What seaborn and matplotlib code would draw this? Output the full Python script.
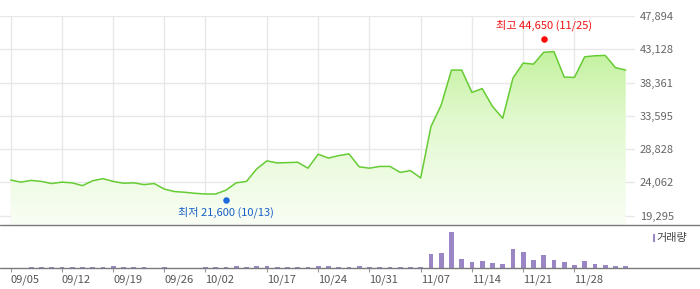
import numpy as np
import pandas as pd
import matplotlib
matplotlib.use("Agg")
import matplotlib.pyplot as plt
import seaborn as sns
from matplotlib.colors import LinearSegmentedColormap
from matplotlib.lines import Line2D
from matplotlib.patches import Rectangle

# ---------------- data ----------------
price = [24400, 24100, 24350, 24200, 23900, 24100, 24000, 23600, 24300, 24600,
         24200, 23950, 24000, 23750, 23900, 23100, 22750, 22650, 22500, 22400,
         22400, 22950, 24000, 24200, 26000, 27150, 26850, 26900, 26950, 26100,
         28100, 27550, 27900, 28150, 26300, 26100, 26350, 26350, 25500, 25750,
         24700, 32050, 35150, 40150, 40150, 36950, 37500, 34950, 33250, 39000,
         41150, 41000, 42700, 42800, 39150, 39100, 42050, 42200, 42250, 40500, 40150]

volume = [8, 8, 50, 50, 50, 50, 50, 50, 50, 50,
          100, 50, 50, 50, 10, 50, 10, 10, 10, 50,
          50, 50, 100, 50, 100, 100, 50, 50, 50, 50,
          100, 100, 50, 50, 100, 50, 50, 50, 50, 50,
          50, 700, 750, 1800, 450, 300, 350, 250, 200, 950,
          800, 400, 650, 400, 300, 150, 350, 200, 150, 100, 100]

tick_idx = [0, 5, 10, 15, 19, 25, 30, 35, 40, 45, 50, 55]
tick_labels = ["09/05", "09/12", "09/19", "09/26", "10/02", "10/17",
               "10/24", "10/31", "11/07", "11/14", "11/21", "11/28"]

y_ticks = [19295, 24062, 28828, 33595, 38361, 43128, 47894]

high_idx, high_val, high_date = 52, 44650, "11/25"
low_idx, low_val, low_date = 21, 21600, "10/13"

df = pd.DataFrame({"idx": np.arange(len(price)), "price": price, "volume": volume})

# ---------------- style ----------------
sns.set_theme(style="white")
plt.rcParams["font.family"] = ["Noto Sans CJK KR", "DejaVu Sans"]

W, H = 700, 289
fig = plt.figure(figsize=(W / 100, H / 100), dpi=100)

def fx(px):
    return px / W

def fy(py):
    return 1 - py / H

ax_left, ax_right = 0, 635
main_top, main_bot = 16, 225
vol_top, vol_bot = 225, 268.3

ax = fig.add_axes([fx(ax_left), fy(main_bot), fx(ax_right - ax_left), (main_bot - main_top) / H])
axv = fig.add_axes([fx(ax_left), fy(vol_bot), fx(ax_right - ax_left), (vol_bot - vol_top) / H])

# x mapping: index 0 at px 10.7, step 10.25 px
x0_px, step_px = 10.7, 10.25
xmin = (ax_left - x0_px) / step_px
xmax = (ax_right - x0_px) / step_px

# y limits: 47894 at px 16, 19295 at px 215.7
ppu = (215.7 - 16) / (y_ticks[-1] - y_ticks[0])
ymax = y_ticks[-1]
ymin = y_ticks[0] - (main_bot - 215.7) / ppu

# ---------------- main price panel ----------------
grid_c = "#e8e8e8"
ax.set_xlim(xmin, xmax)
ax.set_ylim(ymin, ymax)
ax.set_xticks(tick_idx)
ax.set_xticklabels([])
ax.set_yticks(y_ticks)
ax.set_yticklabels([f"{v:,}" for v in y_ticks])
ax.yaxis.tick_right()
ax.tick_params(axis="y", length=0, pad=3.6, labelsize=8, labelcolor="#666666")
ax.tick_params(axis="x", length=0)
ax.grid(True, color=grid_c, linewidth=1.0)
for s in ax.spines.values():
    s.set_visible(False)

# gradient fill under the line
poly = ax.fill_between(df["idx"], df["price"], ymin, color="none", linewidth=0)
cmap = LinearSegmentedColormap.from_list("g", ["#f9fef5", "#e2f9cf", "#b4ee86"])
grad = np.linspace(0, 1, 256).reshape(-1, 1)
im = ax.imshow(grad, cmap=cmap, aspect="auto", origin="lower",
               extent=[0, len(price) - 1, ymin, ymax], zorder=1)
im.set_clip_path(poly.get_paths()[0], transform=ax.transData)
ax.set_xlim(xmin, xmax)
ax.set_ylim(ymin, ymax)

sns.lineplot(data=df, x="idx", y="price", ax=ax, color="#66cc33", linewidth=1.1, zorder=3)
ax.set_xlabel("")
ax.set_ylabel("")

ax.scatter([high_idx], [high_val], s=22, color="#ff0a0a", zorder=4, linewidths=0)
ax.scatter([low_idx], [low_val], s=22, color="#1e6be0", zorder=4, linewidths=0)
ax.annotate(f"최고 {high_val:,} ({high_date})", (high_idx, high_val), xytext=(0, 9.8),
            textcoords="offset points", ha="center", va="center", fontsize=8, color="#ee1111")
ax.annotate(f"최저 {low_val:,} ({low_date})", (low_idx, low_val), xytext=(0, -9.2),
            textcoords="offset points", ha="center", va="center", fontsize=8, color="#1a5fc8")

# ---------------- volume panel ----------------
sns.barplot(data=df, x="idx", y="volume", ax=axv, color="#9a86c5", width=0.45,
            native_scale=True, saturation=1, linewidth=0)
axv.set_xlim(xmin, xmax)
axv.set_ylim(0, 2150)
axv.set_xlabel("")
axv.set_ylabel("")
axv.set_yticks([])
axv.set_xticks(tick_idx)
axv.set_xticklabels(tick_labels, ha="left")
axv.tick_params(axis="x", direction="out", length=3.2, width=0.8, color="#999999",
                pad=1.5, labelsize=8, labelcolor="#555555", bottom=True)
for s in axv.spines.values():
    s.set_visible(False)

# separator lines spanning the full width
for py in (main_bot, vol_bot):
    fig.add_artist(Line2D([0, 1], [fy(py), fy(py)], transform=fig.transFigure,
                          color="#7a7a7a", linewidth=1.0))

# volume legend
fig.add_artist(Rectangle((fx(652.5), fy(241.7)), fx(2.8), (241.7 - 234.3) / H,
                         transform=fig.transFigure, color="#9a86c5", linewidth=0))
fig.text(fx(656.5), fy(238), "거래량", fontsize=8, color="#444444", ha="left", va="center")

fig.savefig("out.png", dpi=100)
